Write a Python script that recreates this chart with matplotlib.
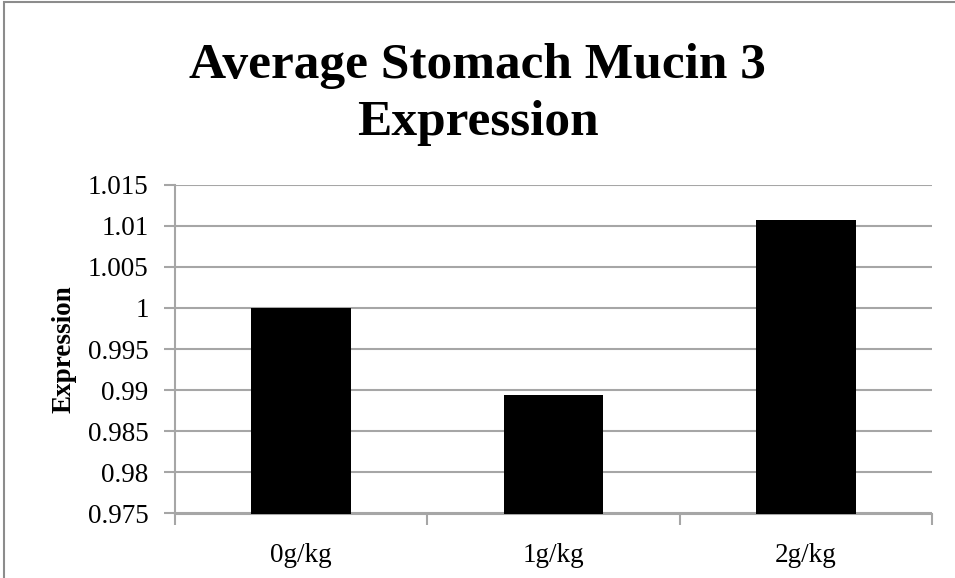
import matplotlib.pyplot as plt
from matplotlib.patches import Rectangle

# Mucin 3 expression by dose
doses = ["0g/kg", "1g/kg", "2g/kg"]
expression = [1.0, 0.98936, 1.01065]
y_ticks = [0.975, 0.98, 0.985, 0.99, 0.995, 1.0, 1.005, 1.01, 1.015]
y_tick_labels = ["0.975", "0.98", "0.985", "0.99", "0.995", "1", "1.005", "1.01", "1.015"]

plt.rcParams['font.family'] = ['Liberation Serif', 'DejaVu Serif']
grid_col = '#a6a6a6'

fig = plt.figure(figsize=(9.55, 5.78), dpi=100)
ax = fig.add_axes([175 / 955, 1 - 513.5 / 578, (932 - 175) / 955, (513.5 - 184.7) / 578])

x = list(range(len(doses)))
ax.bar(x, expression, width=0.395, color='black', zorder=3)

ax.set_ylim(0.975, 1.015)
ax.set_xlim(-0.5, 2.5)
ax.set_yticks(y_ticks)
ax.set_yticklabels(y_tick_labels, fontsize=19.5)
ax.yaxis.grid(True, color=grid_col, linewidth=1.5, zorder=0)

# category boundaries get the tick marks, labels sit between them
ax.set_xticks([-0.5, 0.5, 1.5, 2.5])
ax.set_xticklabels([])
ax.set_xticks(x, minor=True)
ax.set_xticklabels(doses, minor=True, fontsize=19.5)
ax.tick_params(axis='x', which='major', direction='out', length=8, width=1.5, color=grid_col)
ax.tick_params(axis='x', which='minor', length=0, pad=21)
ax.tick_params(axis='y', direction='out', length=8, width=1.5, color=grid_col, pad=11)

for side in ['top', 'right']:
    ax.spines[side].set_visible(False)
for side in ['left', 'bottom']:
    ax.spines[side].set_color(grid_col)
    ax.spines[side].set_linewidth(1.5)

ax.set_ylabel("Expression", fontsize=19.5, fontweight='bold', labelpad=8)

fig.text(0.5, 1 - 78 / 578, "Average Stomach Mucin 3", ha='center', va='baseline',
         fontsize=37, fontweight='bold')
fig.text(0.5, 1 - 135 / 578, "Expression", ha='center', va='baseline',
         fontsize=37, fontweight='bold')

# chart frame
fig.patches.append(Rectangle((3.5 / 955, -0.05), 1.2, 1.05 - 1.5 / 578, transform=fig.transFigure,
                             fill=False, edgecolor='#8c8c8c', linewidth=1.5))

fig.savefig("out.png", dpi=100)
